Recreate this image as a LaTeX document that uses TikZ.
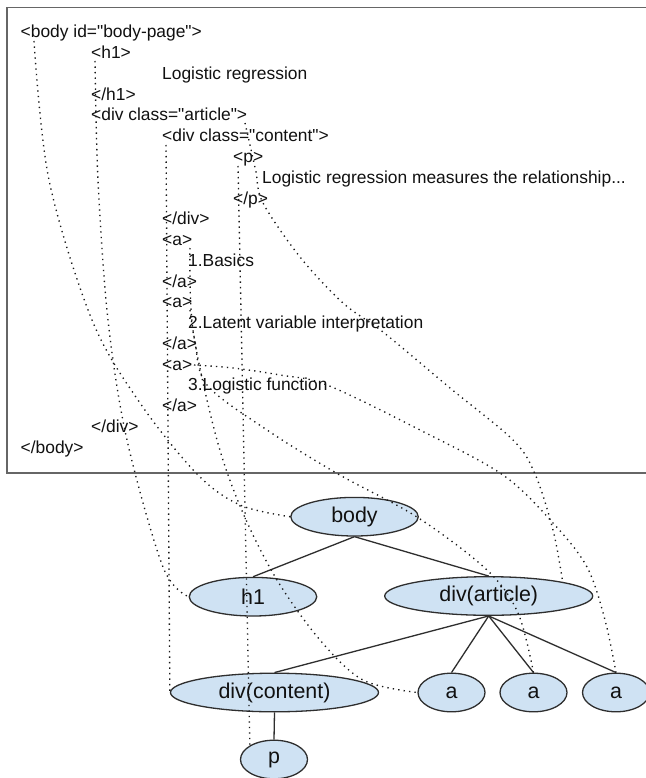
\documentclass[tikz,border=0pt]{standalone}
\usepackage{fontspec}
\setmainfont{Liberation Sans}
\newfontfamily\codefont{Liberation Sans}
\usetikzlibrary{shapes.geometric}
\definecolor{nodefill}{HTML}{CFE2F3}
\definecolor{edgecol}{HTML}{2E2E2E}
\definecolor{boxcol}{HTML}{666666}
\definecolor{txtcol}{HTML}{111111}
\newcommand{\myq}{\symbol{34}}
\begin{document}
\begin{tikzpicture}[x=1pt,y=-1pt,
  code/.style={anchor=base west, inner sep=0pt, font=\codefont\fontsize{17.4}{20}\selectfont, text=txtcol},
  treenode/.style={ellipse, draw=edgecol, line width=1.3pt, fill=nodefill, inner sep=0pt, font=\fontsize{21.4}{24}\selectfont, text=txtcol},
  ellwide/.style={treenode, minimum width=208pt, minimum height=38.6pt},
  ellmid/.style={treenode, minimum width=127.5pt, minimum height=38.6pt},
  ellsmall/.style={treenode, minimum width=67pt, minimum height=38.6pt},
  treeedge/.style={draw=edgecol, line width=1.3pt},
  dotlink/.style={draw=black!90, line width=1.35pt, dash pattern=on 1.3pt off 4.2pt},
  boxline/.style={draw=boxcol, line width=1.5pt},
]
\useasboundingbox (0,0) rectangle (645,778);
\fill[white] (0,0) rectangle (645,778);
% code box
\draw[boxline] (7,7.5) rectangle (700,473);
% code lines
\node[code] (t0)  at (20.5,38)    {<body id=\myq body-page\myq>};
\node[code] (t1)  at (91,58.75)   {<h1>};
\node[code] (t2)  at (162,79.5)   {Logistic regression};
\node[code] (t3)  at (91,100.25)  {</h1>};
\node[code] (t4)  at (91,121)     {<div class=\myq article\myq>};
\node[code] (t5)  at (162,141.75) {<div class=\myq content\myq>};
\node[code] (t6)  at (233,162.5)  {<p>};
\node[code] (t7)  at (262,183.25) {Logistic regression measures the relationship...};
\node[code] (t8)  at (233,204)    {</p>};
\node[code] (t9)  at (162,224.75) {</div>};
\node[code] (t10) at (162,245.5)  {<a>};
\node[code] (t11) at (188,266.25) {1.Basics};
\node[code] (t12) at (162,287)    {</a>};
\node[code] (t13) at (162,307.75) {<a>};
\node[code] (t14) at (188,328.5)  {2.Latent variable interpretation};
\node[code] (t15) at (162,349.25) {</a>};
\node[code] (t16) at (162,370)    {<a>};
\node[code] (t17) at (188,390.75) {3.Logistic function};
\node[code] (t18) at (162,411.5)  {</a>};
\node[code] (t19) at (91,432.25)  {</div>};
\node[code] (t20) at (20.5,453)   {</body>};
% tree
\node[ellmid] (body) at (354.5,516.7) {body};
\node[ellmid] (h1) at (253,596.7) {h1};
\node[ellwide] (da) at (488.7,596) {div(article)};
\node[ellwide] (dc) at (274.5,692.5) {div(content)};
\node[ellsmall] (a1) at (451.5,692.5) {a};
\node[ellsmall] (a2) at (533.5,692.5) {a};
\node[ellsmall] (a3) at (616,692.5) {a};
\node[ellsmall] (p) at (274,759.5) {p};
\draw[treeedge] (body.south) -- (h1.north);
\draw[treeedge] (body.south) -- (da.north);
\draw[treeedge] (da.south) -- (dc.north);
\draw[treeedge] (da.south) -- (a1.north);
\draw[treeedge] (da.south) -- (a2.north);
\draw[treeedge] (da.south) -- (a3.north);
\draw[treeedge] (dc.south) -- (p.north);
% start points of links
\coordinate (sbody) at (34,41);
\coordinate (sh1) at (95,61);
\coordinate (sart) at (245,123);
\coordinate (sdc) at (166,145);
\coordinate (sp) at (238,166);
\coordinate (sa1) at (190,248);
\coordinate (sa2) at (190,310);
\coordinate (sa3) at (194,365);
% dotted links
\draw[dotlink] plot[smooth, tension=0.55] coordinates {(sbody) (49,180) (92,320) (140,403) (197,474) (240,505) (body.west)};
\draw[dotlink] plot[smooth, tension=0.55] coordinates {(sh1) (98,180) (108,320) (127,440) (163,567) (h1.west)};
\draw[dotlink] (sdc) -- (dc.west);
\draw[dotlink] (sp) -- (p.north west);
\draw[dotlink] plot[smooth, tension=0.55] coordinates {(sart) (250,145) (256,172) (263,203) (300,257) (343,303) (383,332) (450,388) (513,440) (535,474) (553,530) (da.north east)};
\draw[dotlink] plot[smooth, tension=0.55] coordinates {(sa1) (193,330) (217,440) (243,513) (277,580) (320,640) (363,680) (a1.west)};
\draw[dotlink] plot[smooth, tension=0.55] coordinates {(sa2) (195,342) (207,385) (267,430) (338,474) (417,517) (487,570) (518,613) (a2.north)};
\draw[dotlink] plot[smooth, tension=0.55] coordinates {(sa3) (233,368) (280,375) (327,385) (420,430) (503,475) (553,523) (587,567) (605,620) (a3.north)};
\end{tikzpicture}
\end{document}
